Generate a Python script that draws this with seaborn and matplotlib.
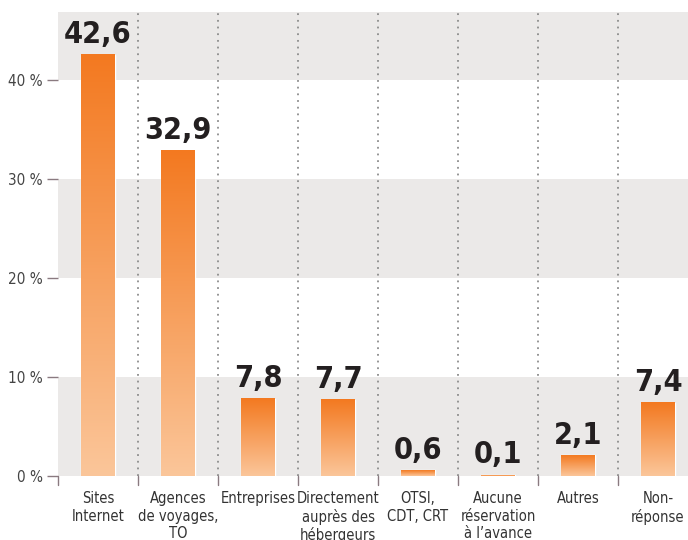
import numpy as np
import pandas as pd
import matplotlib
matplotlib.use('Agg')
import matplotlib.pyplot as plt
import seaborn as sns
from matplotlib.colors import LinearSegmentedColormap

# Data
categories = ['Sites\nInternet', 'Agences\nde voyages,\nTO', 'Entreprises',
              'Directement\nauprès des\nhébergeurs', 'OTSI,\nCDT, CRT',
              'Aucune\nréservation\nà l\u2019avance', 'Autres', 'Non-\nréponse']
values = [42.6, 32.9, 7.8, 7.7, 0.6, 0.1, 2.1, 7.4]
value_labels = ['42,6', '32,9', '7,8', '7,7', '0,6', '0,1', '2,1', '7,4']
yticks = [0, 10, 20, 30, 40]
ytick_labels = ['0 %', '10 %', '20 %', '30 %', '40 %']

sns.set_style('white')
plt.rcParams['font.family'] = ['DejaVu Sans']
plt.rcParams['font.stretch'] = 'condensed'

df = pd.DataFrame({'cat': categories, 'val': values})

fig = plt.figure(figsize=(6.88, 5.40), dpi=100)
ax = fig.add_axes([58 / 688, 64 / 540, 640 / 688, 464 / 540])

sns.barplot(data=df, x='cat', y='val', ax=ax, width=0.42, color='#f47b20',
            saturation=1, zorder=3)
bars = list(ax.patches)

ax.set_xlim(-0.5, 7.5)
ax.set_ylim(0, 46.9)

# alternating background bands
for lo, hi in [(0, 10), (20, 30), (40, 46.9)]:
    ax.axhspan(lo, hi, color='#ebe9e8', zorder=0, lw=0)

# gradient on each bar
cmap = LinearSegmentedColormap.from_list('og', ['#fbc69a', '#f37920'])
grad = np.linspace(0, 1, 256).reshape(-1, 1)
for p in bars:
    x0, w, h = p.get_x(), p.get_width(), p.get_height()
    p.set_facecolor('none')
    ax.imshow(grad, extent=[x0, x0 + w, 0, h], origin='lower', cmap=cmap,
              aspect='auto', zorder=3, interpolation='bicubic')
ax.set_xlim(-0.5, 7.5)
ax.set_ylim(0, 46.9)

# dotted separators
for xb in np.arange(0.5, 7.5, 1):
    ax.axvline(xb, color='#8c8c8c', ls=(0, (1, 2.7)), lw=1.3, zorder=2)

# value labels
for i, (v, lab) in enumerate(zip(values, value_labels)):
    ax.annotate(lab, (i, v), xytext=(0, 4), textcoords='offset points',
                ha='center', va='bottom', fontsize=22, fontweight='bold',
                color='#231f20')

ax.set_yticks(yticks)
ax.set_yticklabels(ytick_labels, fontsize=11, color='#444444')
ax.tick_params(axis='y', length=8, width=1, color='#8a7a80', pad=3, left=True)

ax.set_xticks(range(len(categories)))
ax.set_xticklabels(categories, fontsize=10.5, color='#333333', linespacing=1.2, va='top')
ax.tick_params(axis='x', length=0, pad=11)

# small ticks below the baseline at separators
for xb in np.arange(-0.5, 7.5, 1):
    ax.plot([xb, xb], [0, -0.9], color='#8a7a80', lw=1, clip_on=False, zorder=4)

for s in ax.spines.values():
    s.set_visible(False)
ax.set_xlabel('')
ax.set_ylabel('')

fig.savefig('out.png', dpi=100)
